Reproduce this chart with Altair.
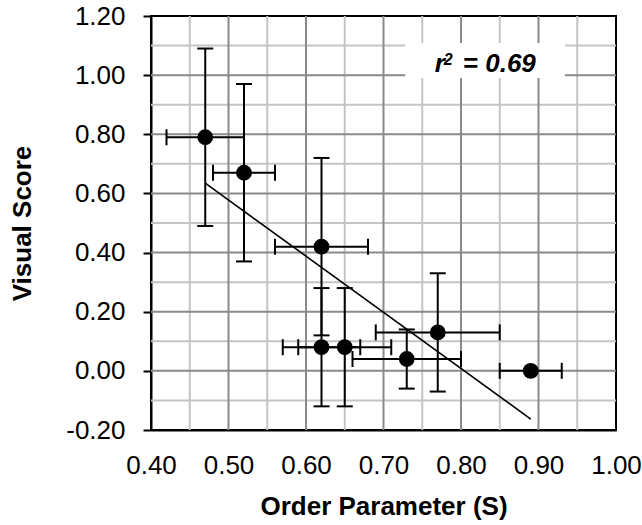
import altair as alt
import pandas as pd

# ---- data ----
order_param = [0.47, 0.52, 0.62, 0.62, 0.65, 0.73, 0.77, 0.89]
visual_score = [0.79, 0.67, 0.42, 0.08, 0.08, 0.04, 0.13, 0.00]
order_err = [0.05, 0.04, 0.06, 0.05, 0.06, 0.07, 0.08, 0.04]
score_err = [0.30, 0.30, 0.30, 0.20, 0.20, 0.10, 0.20, 0.00]

x_ticks = [0.4, 0.5, 0.6, 0.7, 0.8, 0.9, 1.0]
y_ticks = [-0.2, 0.0, 0.2, 0.4, 0.6, 0.8, 1.0, 1.2]
x_grid_major = [0.5, 0.6, 0.7, 0.8, 0.9]
x_grid_minor = [0.45, 0.55, 0.65, 0.75, 0.85, 0.95]
y_grid_major = [0.0, 0.2, 0.4, 0.6, 0.8, 1.0]
y_grid_minor = [-0.1, 0.1, 0.3, 0.5, 0.7, 0.9, 1.1]

r2_parts = ["r", "2", "= 0.69"]
r2_pos_x = [0.832]
r2_pos_y = [1.01]
r2_box = {"x0": [0.728], "x1": [0.934], "y0": [0.99], "y1": [1.109]}

# ---- tables ----
df = pd.DataFrame({
    "S": order_param,
    "V": visual_score,
    "S_lo": [s - e for s, e in zip(order_param, order_err)],
    "S_hi": [s + e for s, e in zip(order_param, order_err)],
    "V_lo": [v - e for v, e in zip(visual_score, score_err)],
    "V_hi": [v + e for v, e in zip(visual_score, score_err)],
    "Verr": score_err,
})
df_yerr = df[df["Verr"] > 0]

FONT = "Liberation Sans"
xs = alt.Scale(domain=[0.4, 1.0], nice=False, zero=False)
ys = alt.Scale(domain=[-0.2, 1.2], nice=False, zero=False)

LBL = "datum.value < 0 ? '-' + format(-datum.value, '.2f') : format(datum.value, '.2f')"

X_AX = alt.Axis(values=x_ticks, labelExpr=LBL, grid=False, ticks=False, tickSize=0,
                labelPadding=22, labelFontSize=26, labelFont=FONT, labelColor="black",
                labelFlush=False, labelOverlap=False,
                domainColor="black", domainWidth=2,
                title="Order Parameter (S)", titleFontSize=26, titleFont=FONT,
                titleFontWeight="bold", titleColor="black", titlePadding=15)
Y_AX = alt.Axis(values=y_ticks, labelExpr=LBL, grid=False, ticks=True, tickSize=8,
                tickWidth=2, tickColor="black",
                labelPadding=18, labelFontSize=26, labelFont=FONT, labelColor="black",
                labelFlush=False, labelOverlap=False,
                domainColor="black", domainWidth=2,
                title="Visual Score", titleFontSize=26, titleFont=FONT,
                titleFontWeight="bold", titleColor="black", titlePadding=30)

LIGHT = "#c4c4c4"
DARK = "#8a8a8a"


def vgrid(vals, color):
    return alt.Chart(pd.DataFrame({"g": vals})).mark_rule(color=color, strokeWidth=2).encode(
        x=alt.X("g:Q", scale=xs, axis=X_AX))


def hgrid(vals, color):
    return alt.Chart(pd.DataFrame({"g": vals})).mark_rule(color=color, strokeWidth=2).encode(
        y=alt.Y("g:Q", scale=ys, axis=Y_AX))


box = alt.Chart(pd.DataFrame(r2_box)).mark_rect(color="white").encode(
    x=alt.X("x0:Q", scale=xs, axis=X_AX), x2="x1:Q",
    y=alt.Y("y0:Q", scale=ys, axis=Y_AX), y2="y1:Q")

base = alt.Chart(df)

x_err = base.mark_rule(color="black", strokeWidth=2).encode(
    x=alt.X("S_lo:Q", scale=xs, axis=X_AX), x2="S_hi:Q",
    y=alt.Y("V:Q", scale=ys, axis=Y_AX))
x_caps = base.transform_fold(["S_lo", "S_hi"], as_=["k", "cap"]).mark_rule(
    color="black", strokeWidth=2, yOffset=-8, y2Offset=8).encode(
    x=alt.X("cap:Q", scale=xs, axis=X_AX),
    y=alt.Y("V:Q", scale=ys, axis=Y_AX), y2="V:Q")

ybase = alt.Chart(df_yerr)
y_err = ybase.mark_rule(color="black", strokeWidth=2).encode(
    x=alt.X("S:Q", scale=xs, axis=X_AX),
    y=alt.Y("V_lo:Q", scale=ys, axis=Y_AX), y2="V_hi:Q")
y_caps = ybase.transform_fold(["V_lo", "V_hi"], as_=["k", "cap"]).mark_rule(
    color="black", strokeWidth=2, xOffset=-8, x2Offset=8).encode(
    x=alt.X("S:Q", scale=xs, axis=X_AX), x2="S:Q",
    y=alt.Y("cap:Q", scale=ys, axis=Y_AX))

points = base.mark_circle(color="black", opacity=1, size=250).encode(
    x=alt.X("S:Q", scale=xs, axis=X_AX),
    y=alt.Y("V:Q", scale=ys, axis=Y_AX))

trend = base.transform_regression("S", "V").mark_line(color="black", strokeWidth=1.6).encode(
    x=alt.X("S:Q", scale=xs, axis=X_AX),
    y=alt.Y("V:Q", scale=ys, axis=Y_AX))

lab_df = pd.DataFrame({"lx": r2_pos_x, "ly": r2_pos_y, "a": [r2_parts[0]],
                       "b": [r2_parts[1]], "c": [r2_parts[2]]})
lab_base = alt.Chart(lab_df)


def lab(field, size, dx, dy):
    return lab_base.mark_text(
        font=FONT, fontSize=size, fontWeight="bold", fontStyle="italic", color="black",
        align="left", baseline="alphabetic", dx=dx, dy=dy).encode(
        x=alt.X("lx:Q", scale=xs, axis=X_AX),
        y=alt.Y("ly:Q", scale=ys, axis=Y_AX),
        text=f"{field}:N")


label = lab("a", 26, -51, 0) + lab("b", 16, -42, -7) + lab("c", 26, -23, 0)

chart = alt.layer(
    vgrid(x_grid_minor, LIGHT), hgrid(y_grid_minor, LIGHT),
    vgrid(x_grid_major, DARK), hgrid(y_grid_major, DARK),
    box, trend, x_err, x_caps, y_err, y_caps, points, label,
).properties(
    width=465, height=414,
    autosize=alt.AutoSizeParams(type="none"),
    padding={"left": 151, "top": 16, "right": 26, "bottom": 95},
).configure(font=FONT).configure_view(stroke="black", strokeWidth=2)

chart.save("out.html", embed_options={"renderer": "svg", "actions": False})
